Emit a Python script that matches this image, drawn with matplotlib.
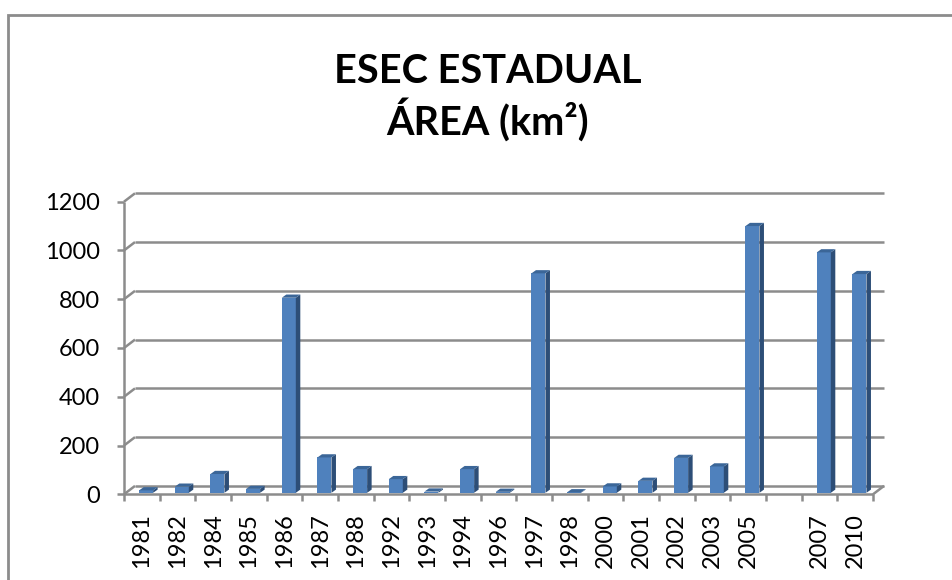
import matplotlib
matplotlib.use('Agg')
import matplotlib.pyplot as plt
from matplotlib.patches import Polygon, Rectangle
import numpy as np

plt.rcParams['font.family'] = ['Lato', 'DejaVu Sans']

# data (blank category between 2005 and 2007)
years = ['1981', '1982', '1984', '1985', '1986', '1987', '1988', '1992', '1993',
         '1994', '1996', '1997', '1998', '2000', '2001', '2002', '2003', '2005',
         '', '2007', '2010']
area = [10, 25, 77, 16, 800, 145, 97, 56, 5, 97, 4, 900, 2, 26, 49, 143, 108,
        1094, np.nan, 986, 897]
yticks = [0, 200, 400, 600, 800, 1000, 1200]

W, H = 953, 580
fig = plt.figure(figsize=(W / 100, H / 100), dpi=100)

# front plane of the 3D box, in pixels
x_left, x_right = 124, 873
y_zero, y_top = 494.3, 201.7
ax = fig.add_axes([x_left / W, 1 - y_zero / H,
                   (x_right - x_left) / W, (y_zero - y_top) / H])
n = len(years)
ax.set_xlim(0, n)
ax.set_ylim(0, 1200)
ax.set_facecolor('none')
for s in ax.spines.values():
    s.set_visible(False)

ux = n / (x_right - x_left)          # data units per pixel
uy = 1200 / (y_zero - y_top)
DX, DY = 11 * ux, 8.4 * uy           # depth of the floor/back wall

grid_c = '#8c8c8c'
kw = dict(color=grid_c, lw=1.8, clip_on=False, solid_capstyle='butt')

# back wall gridlines + side wall diagonals + left ticks
for v in yticks:
    ax.plot([DX, n + DX], [v + DY, v + DY], zorder=1, **kw)
    ax.plot([0, DX], [v, v + DY], zorder=1, **kw)
    ax.plot([-7 * ux, 0], [v, v], zorder=1, **kw)
ax.plot([0, 0], [0, 1200], zorder=1, **kw)
# floor front edge and right edge
ax.plot([0, n], [0, 0], zorder=1, **kw)
ax.plot([n, n + DX], [0, DY], zorder=1, **kw)
for i in range(n + 1):
    ax.plot([i, i], [0, -7 * uy], zorder=1, **kw)

# 3D bars
bw, bx, by = 14 * ux, 4.3 * ux, 1.5 * uy
sx, sy = 4.5 * ux, 3.2 * uy
front_c, side_c, top_c = '#4f81bd', '#2d4e77', '#3b6698'
for i, v in enumerate(area):
    if np.isnan(v):
        continue
    x0 = i + 0.5 - bw / 2 + bx
    b = by
    ax.add_patch(Rectangle((x0, b), bw, v, facecolor=front_c, edgecolor='none',
                           zorder=3, clip_on=False))
    ax.add_patch(Polygon([(x0 + bw, b), (x0 + bw + sx, b + sy),
                          (x0 + bw + sx, b + v + sy), (x0 + bw, b + v)],
                         facecolor=side_c, edgecolor='none', zorder=3, clip_on=False))
    ax.add_patch(Polygon([(x0, b + v), (x0 + bw, b + v),
                          (x0 + bw + sx, b + v + sy), (x0 + sx, b + v + sy)],
                         facecolor=top_c, edgecolor='none', zorder=3, clip_on=False))

ax.set_xticks(np.arange(n) + 0.5)
ax.set_xticklabels(years, rotation=90, fontsize=17)
ax.set_yticks(yticks)
ax.set_yticklabels([str(t) for t in yticks], fontsize=17)
ax.tick_params(axis='x', length=0, pad=13.5)
ax.tick_params(axis='y', length=0, pad=17.5)

# title
fig.text(488 / W, 1 - 83 / H, 'ESEC ESTADUAL', ha='center', va='baseline',
         fontsize=28.5, fontweight='bold')
fig.text(488 / W, 1 - 135 / H, 'ÁREA (km²)', ha='center', va='baseline',
         fontsize=28.5, fontweight='bold')

# chart border (runs off the right and bottom edges)
fig.add_artist(Rectangle((8 / W, -0.1), 2, 1 - 15 / H + 0.1,
                         transform=fig.transFigure, fill=False,
                         edgecolor='#8c8c8c', lw=2))

fig.savefig('out.png', dpi=100, facecolor='white')
